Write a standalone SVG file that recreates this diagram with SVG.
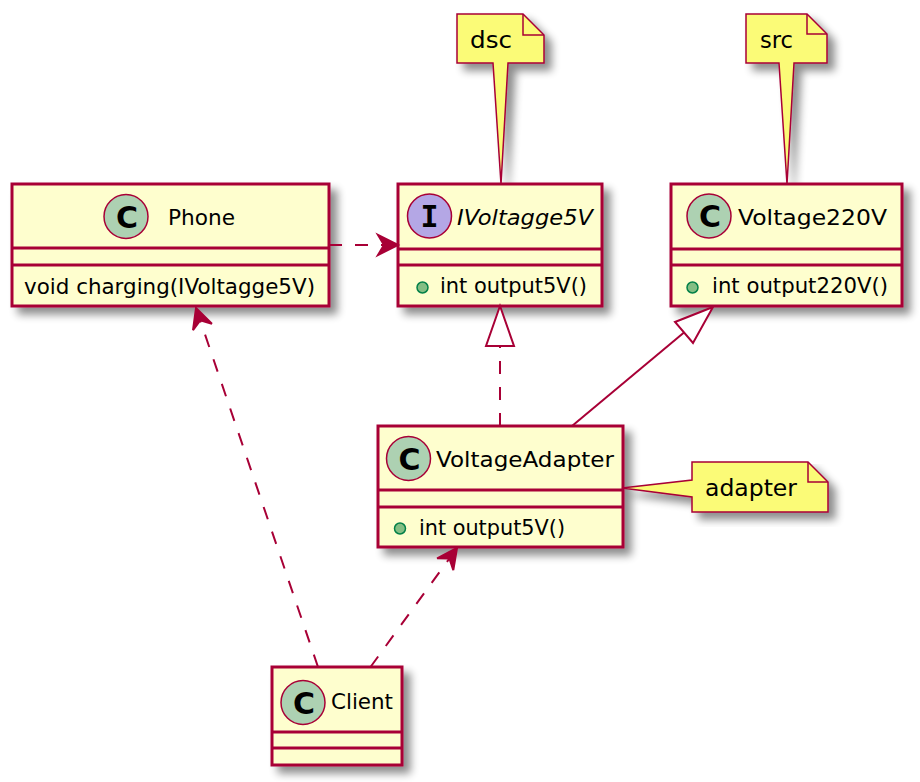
<svg xmlns="http://www.w3.org/2000/svg" width="920" height="782" viewBox="0 0 920 782">
<defs>
<filter id="sh" x="-10%" y="-10%" width="130%" height="140%">
<feGaussianBlur in="SourceAlpha" stdDeviation="4"/>
<feOffset dx="7" dy="7"/>
<feComponentTransfer><feFuncA type="linear" slope="0.45"/></feComponentTransfer>
<feMerge><feMergeNode/><feMergeNode in="SourceGraphic"/></feMerge>
</filter>
<style>
.box{fill:#FEFECE;stroke:#A80036;stroke-width:3}
.sep{stroke:#A80036;stroke-width:3}
.note{fill:#FBFB77;stroke:#A80036;stroke-width:1.5}
.fold{fill:none;stroke:#A80036;stroke-width:1.5}
.cic{fill:#ADD1B2;stroke:#A80036;stroke-width:1.5}
.iic{fill:#B4A7E5;stroke:#A80036;stroke-width:1.5}
.pub{fill:#84BE84;stroke:#038048;stroke-width:1.5}
.name{font-family:"DejaVu Sans",sans-serif;font-size:22px;fill:#000}
.mem{font-family:"DejaVu Sans",sans-serif;font-size:21px;fill:#000}
.ntxt{font-family:"DejaVu Sans",sans-serif;font-size:23px;fill:#000}
.glyph{font-family:"DejaVu Sans",sans-serif;font-size:30px;font-weight:bold;fill:#000;text-anchor:middle}
.iglyph{font-family:"DejaVu Sans Mono",monospace;font-size:30px;font-weight:bold;fill:#000;text-anchor:middle}
.ln{fill:none;stroke:#A80036;stroke-width:2}
.dash{stroke-dasharray:13,13}
.head{fill:#A80036;stroke:#A80036;stroke-width:2}
.tri{fill:#FFFFFF;stroke:#A80036;stroke-width:2}
</style>
</defs>
<rect width="920" height="782" fill="#FFFFFF"/>

<g id="note-dsc">
<path class="note" filter="url(#sh)" d="M457,14 L523,14 L544,35 L544,63 L508,63 L501,184 L493,63 L457,63 Z"/>
<path class="fold" d="M523,14 L523,35 L544,35"/>
<text class="ntxt" x="470" y="48" textLength="42" lengthAdjust="spacingAndGlyphs">dsc</text>
</g>

<g id="note-src">
<path class="note" filter="url(#sh)" d="M746,14 L807,14 L827,34 L827,63 L794,63 L787,184 L779,63 L746,63 Z"/>
<path class="fold" d="M807,14 L807,34 L827,34"/>
<text class="ntxt" x="760" y="48" textLength="33" lengthAdjust="spacingAndGlyphs">src</text>
</g>

<g id="Phone">
<rect class="box" filter="url(#sh)" x="12" y="184" width="317" height="122"/>
<line class="sep" x1="12" y1="248" x2="329" y2="248"/>
<line class="sep" x1="12" y1="265" x2="329" y2="265"/>
<circle class="cic" cx="126" cy="216.5" r="22"/>
<text class="glyph" x="127" y="227.5">C</text>
<text class="name" x="168" y="225" textLength="67" lengthAdjust="spacingAndGlyphs">Phone</text>
<text class="mem" x="24" y="294" textLength="291" lengthAdjust="spacingAndGlyphs">void charging(IVoltagge5V)</text>
</g>

<g id="IVoltagge5V">
<rect class="box" filter="url(#sh)" x="398" y="184" width="204" height="122"/>
<line class="sep" x1="398" y1="249" x2="602" y2="249"/>
<line class="sep" x1="398" y1="265" x2="602" y2="265"/>
<circle class="iic" cx="429.5" cy="216" r="22"/>
<text class="iglyph" x="429.5" y="226.5">I</text>
<text class="name" x="457" y="225" font-style="italic" textLength="136" lengthAdjust="spacingAndGlyphs">IVoltagge5V</text>
<circle class="pub" cx="422.5" cy="287.5" r="5.5"/>
<text class="mem" x="440" y="293" textLength="147" lengthAdjust="spacingAndGlyphs">int output5V()</text>
</g>

<g id="Voltage220V">
<rect class="box" filter="url(#sh)" x="671" y="184" width="231" height="122"/>
<line class="sep" x1="671" y1="249" x2="902" y2="249"/>
<line class="sep" x1="671" y1="265" x2="902" y2="265"/>
<circle class="cic" cx="709" cy="216" r="22"/>
<text class="glyph" x="710" y="227">C</text>
<text class="name" x="738" y="225" textLength="149" lengthAdjust="spacingAndGlyphs">Voltage220V</text>
<circle class="pub" cx="692.5" cy="287.5" r="5.5"/>
<text class="mem" x="712" y="293" textLength="176" lengthAdjust="spacingAndGlyphs">int output220V()</text>
</g>

<g id="VoltageAdapter">
<rect class="box" filter="url(#sh)" x="378" y="426" width="245" height="121"/>
<line class="sep" x1="378" y1="490" x2="623" y2="490"/>
<line class="sep" x1="378" y1="507" x2="623" y2="507"/>
<circle class="cic" cx="408.5" cy="458.5" r="22"/>
<text class="glyph" x="409.5" y="469.5">C</text>
<text class="name" x="436" y="467" textLength="178" lengthAdjust="spacingAndGlyphs">VoltageAdapter</text>
<circle class="pub" cx="400" cy="528.5" r="5.5"/>
<text class="mem" x="419" y="535" textLength="146" lengthAdjust="spacingAndGlyphs">int output5V()</text>
</g>

<g id="note-adapter">
<path class="note" filter="url(#sh)" d="M692,462 L808,462 L828,482 L828,512 L692,512 L692,497 L622,488 L692,480 Z"/>
<path class="fold" d="M808,462 L808,482 L828,482"/>
<text class="ntxt" x="705" y="496" textLength="92" lengthAdjust="spacingAndGlyphs">adapter</text>
</g>

<g id="Client">
<rect class="box" filter="url(#sh)" x="272" y="667" width="130" height="98"/>
<line class="sep" x1="272" y1="732" x2="402" y2="732"/>
<line class="sep" x1="272" y1="748" x2="402" y2="748"/>
<circle class="cic" cx="303" cy="702.5" r="22"/>
<text class="glyph" x="304" y="713.5">C</text>
<text class="name" x="331" y="709" textLength="62" lengthAdjust="spacingAndGlyphs">Client</text>
</g>

<g id="connectors">
<line class="ln dash" x1="329" y1="245" x2="384" y2="245"/>
<polygon class="head" points="398,245 378,235 384,245 378,255"/>
<line class="ln dash" x1="500" y1="426" x2="500" y2="346"/>
<polygon class="tri" points="500,306 486,346 514,346"/>
<line class="ln" x1="572" y1="426" x2="684" y2="332.5"/>
<polygon class="tri" points="713,307 675,322 693,343"/>
<line class="ln dash" x1="318" y1="667" x2="200.2" y2="320.3"/>
<polygon class="head" points="196,308 211.9,323.7 200.2,320.3 193,330.2"/>
<line class="ln dash" x1="370.5" y1="667" x2="449.4" y2="558.5"/>
<polygon class="head" points="457,548 437.1,558.3 449.4,558.5 453.3,570.1"/>
</g>
</svg>
